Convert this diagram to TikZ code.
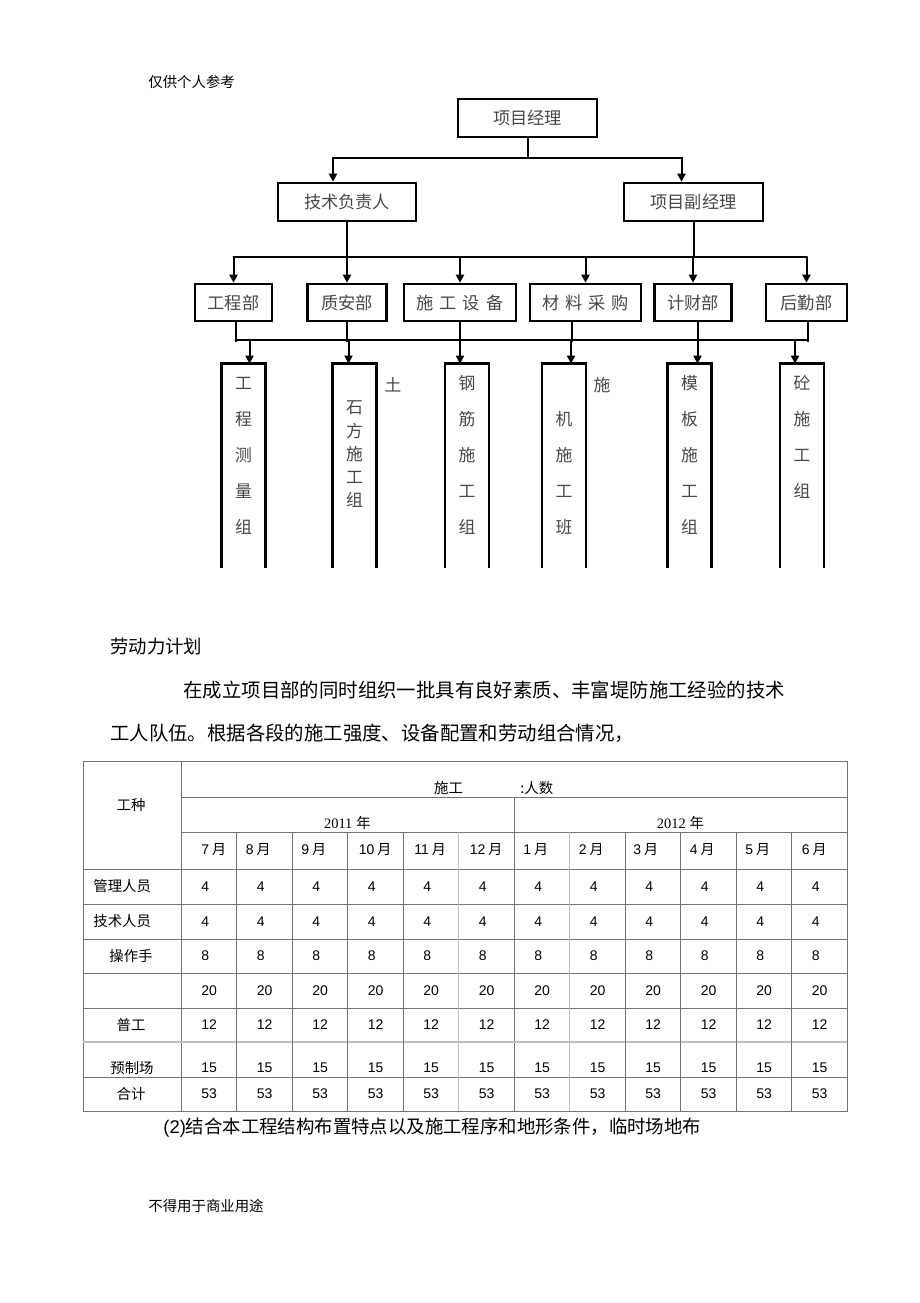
\documentclass[tikz,border=0pt]{standalone}
\usepackage{fontspec}
\setmainfont{Liberation Serif}
\newfontfamily\cjk{Noto Sans CJK SC}
\newfontfamily\arial{Liberation Sans}
\usetikzlibrary{positioning,arrows.meta}
\newcommand\zsp{\hspace{3pt}}
\begin{document}
\begin{tikzpicture}[x=0.5pt, y=-0.5pt, line cap=round, >={Triangle[length=4pt,width=4pt]},
  orgbox/.style={draw, line width=1.3pt, inner sep=0pt, minimum height=19pt, text=black!72, font=\cjk\fontsize{8.6}{10}\selectfont},
  orgwire/.style={line width=1pt},
  boxline/.style={line width=1.3pt, line cap=butt},
  tallbox/.style={minimum width=21.5pt, minimum height=102pt, inner sep=0pt},
  colchar/.style={inner sep=0pt, text=black!72, font=\cjk\fontsize{8.4}{10}\selectfont},
  tabline/.style={draw=black!55, line width=0.5pt, line cap=butt},
  tabfaint/.style={draw=black!25, line width=0.8pt, line cap=butt},
  tabtext/.style={inner sep=0pt, font=\cjk\fontsize{7.2}{8}\selectfont},
  tabnum/.style={inner sep=0pt, anchor=west, font=\arial\fontsize{7}{8}\selectfont},
  bodytext/.style={inner sep=0pt, anchor=west, font=\cjk\fontsize{9.7}{11}\selectfont},
  smalltext/.style={inner sep=0pt, anchor=west, font=\cjk\fontsize{7.2}{8}\selectfont}]
\useasboundingbox (0,0) rectangle (920,1303);

\node[smalltext] (hdr) at (148,82) {仅供个人参考};

% org chart
\node[orgbox, minimum width=69.5pt] (pm) at (527.5,118) {项目经理};
\node[orgbox, minimum width=69pt] (tech) at (347,202) {技术负责人};
\node[orgbox, minimum width=69.5pt] (vpm) at (693.5,202) {项目副经理};
\foreach \d/\x/\w/\t in {eng/233.5/38.5/工程部, qs/347/39.5/质安部,
    equip/460/56/施\zsp 工\zsp 设\zsp 备, mat/585.5/55.5/材\zsp 料\zsp 采\zsp 购,
    fin/693/38.5/计财部, log/806.5/40.5/后勤部}
  \node[orgbox, minimum width=\w pt, minimum height=18.5pt] (\d) at (\x,302.5) {\t};

\coordinate (b1) at (527.5,158);
\draw[orgwire] (pm) -- (b1);
\draw[orgwire,->] (b1) -| ([xshift=-7pt]tech.north);
\draw[orgwire,->] (b1) -| ([xshift=-6pt]vpm.north);

\coordinate (b2) at (347,257);
\draw[orgwire] (tech) -- (b2);
\draw[orgwire] (vpm) -- (vpm |- b2);
\draw[orgwire] (b2 -| eng) -- (b2 -| log);
\foreach \d in {eng,qs,equip,mat,fin,log}
  \draw[orgwire,->] (b2 -| \d) -- (\d);

\coordinate (b3) at (347,340);
\foreach \d/\s in {eng/1,qs/0,equip/0,mat/-7,fin/2.5,log/0.5}
  \draw[orgwire] ([xshift=\s pt]\d.south) -- ++(0,19);
\draw[orgwire] ([xshift=1pt]b3 -| eng) -- ([xshift=0.5pt]b3 -| log);

\foreach \g/\x/\s in {g1/243.5/3, g2/354.5/-3, g3/467/-3.5, g4/564/3.5, g5/689.5/4, g6/802/-3.5}{
  \node[tallbox] (\g) at (\x,466) {};
  \draw[boxline] (\g.south west) |- (\g.north east) -- (\g.south east);
  \draw[orgwire,->] ([xshift=\s pt]\g.north) ++(0,-24) -- ([xshift=\s pt]\g.north);
}
\foreach \g/\x/\y/\s/\cs in {g1/243.5/383/36/{工,程,测,量,组}, g2/354.5/408/23/{石,方,施,工,组},
    g3/467/383/36/{钢,筋,施,工,组}, g4/564/419/36/{机,施,工,班},
    g5/689.5/383/36/{模,板,施,工,组}, g6/802/383/36/{砼,施,工,组}}
  \foreach \c [count=\j from 0] in \cs
    \node[colchar] (\g-\j) at (\x,{\y+\s*\j}) {\c};
\node[colchar] (tu) at (393,385) {土};
\node[colchar] (shi) at (602,385) {施};

% text
\node[bodytext, font=\cjk\fontsize{9.2}{11}\selectfont] (plan) at (110,647) {劳动力计划};
\node[bodytext] (p1) at (183,690) {在成立项目部的同时组织一批具有良好素质、丰富堤防施工经验的技术};
\node[bodytext] (p2) at (110,733) {工人队伍。根据各段的施工强度、设备配置和劳动组合情况，};

% table
\draw[tabline] (83,761) rectangle (847,1111);
\draw[tabline] (181,761) -- (181,1111);
\draw[tabline] (181,797) -- (847,797);
\draw[tabline] (181,832) -- (847,832);
\draw[tabline] (514,797) -- (514,1111);
\foreach \y in {869,904,939,973,1008,1077}
  \draw[tabline] (83,\y) -- (847,\y);
\draw[tabfaint] (83,1042) -- (847,1042);
\foreach \k in {1,2,3,4,8,9,10,11}
  \draw[tabline] ({181+55.5*\k},832) -- ({181+55.5*\k},1111);
\foreach \k in {5,7}
  \draw[tabfaint] ({181+55.5*\k},832) -- ({181+55.5*\k},1111);

\node[tabtext] (kind) at (131,805) {工种};
\node[tabtext] (hd) at (448.5,788) {施工};
\node[tabtext, anchor=west] (hd2) at (520,788) {:人数};
\node[tabtext] (yr1) at (347.5,823) {\rmfamily 2011\hspace{2pt}\cjk 年};
\node[tabtext] (yr2) at (680.5,823) {\rmfamily 2012\hspace{2pt}\cjk 年};
\foreach \m/\o [count=\k from 0] in {7/20,8/9,9/9,10/11,11/11,12/11,1/9,2/9,3/8,4/9,5/9,6/10}
  \node[tabnum] (mon\k) at ({181+55.5*\k+\o},850) {\m\hspace{1.5pt}{\cjk 月}};

\node[tabtext, anchor=west] (r1) at (93,886.5) {管理人员};
\node[tabtext, anchor=west] (r2) at (93,921.5) {技术人员};
\node[tabtext] (r3) at (131,956) {操作手};
\node[tabtext] (r5) at (131,1025) {普工};
\node[tabtext] (r6) at (132,1068) {预制场};
\node[tabtext] (r7) at (131,1094) {合计};
\foreach \v/\y [count=\i] in {4/886.5, 4/921.5, 8/956, 20/990.5, 12/1025, 15/1068, 53/1094}
  \foreach \k in {0,...,11}
    \node[tabnum] (v\i-\k) at ({181+55.5*\k+20},\y) {\v};

\node[bodytext, font=\cjk\fontsize{9.2}{11}\selectfont] (p3) at (163,1128) {\arial(2)\cjk 结合本工程结构布置特点以及施工程序和地形条件，临时场地布};
\node[smalltext] (ftr) at (148,1206) {不得用于商业用途};
\end{tikzpicture}
\end{document}
